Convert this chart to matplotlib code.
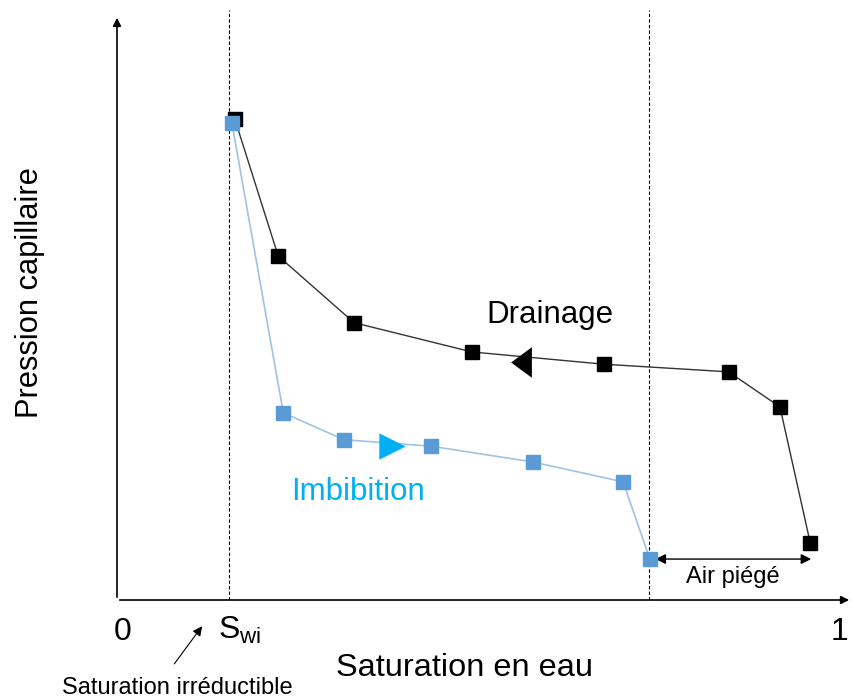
import matplotlib.pyplot as plt

plt.rcParams['font.family'] = ['Liberation Sans', 'DejaVu Sans']

# Saturation (0..1) and capillary pressure (arbitrary units, 0..1)
drain_sat = [0.163, 0.223, 0.328, 0.491, 0.674, 0.846, 0.917, 0.959]
drain_pc = [0.822, 0.588, 0.474, 0.424, 0.403, 0.390, 0.330, 0.097]
imbib_sat = [0.159, 0.230, 0.314, 0.434, 0.575, 0.700, 0.737]
imbib_pc = [0.815, 0.320, 0.274, 0.263, 0.236, 0.202, 0.070]

swi = 0.155
s_trapped = 0.736

c_BLACK = "black"
c_BLUE_MARK = "#5B9BD5"
c_BLUE_LINE = "#9DC3E6"
c_BLUE_TEXT = "#00B0F0"

fig = plt.figure(figsize=(8.54, 6.98), dpi=100)
ax = fig.add_axes([0, 0, 1, 1])
ax.set_xlim(-0.1618, 1.0194)
ax.set_ylim(-0.1675, 1.0256)
ax.axis("off")

# Axes with arrows
ax.annotate("", xy=(1.0166, 0), xytext=(0, 0),
            arrowprops=dict(arrowstyle="-|>", color="black", lw=1.2, mutation_scale=12))
ax.annotate("", xy=(0, 1.0), xytext=(0, 0),
            arrowprops=dict(arrowstyle="-|>", color="black", lw=1.2, mutation_scale=12))

# Dashed verticals
ax.plot([swi, swi], [0, 1.009], color="black", lw=0.8, ls=(0, (3, 2)))
ax.plot([s_trapped, s_trapped], [0, 1.009], color="black", lw=0.8, ls=(0, (3, 2)))

# Curves
ax.plot(drain_sat, drain_pc, color="#333333", lw=1.0, marker="s", ms=10,
        mfc=c_BLACK, mec=c_BLACK, zorder=3)
ax.plot(imbib_sat, imbib_pc, color=c_BLUE_LINE, lw=1.2, marker="s", ms=9.5,
        mfc=c_BLUE_MARK, mec=c_BLUE_MARK, zorder=4)

# Direction arrows
tri_left = [(-0.68, 0), (0.68, 1), (0.68, -1), (-0.68, 0)]
tri_right = [(1, 0), (-1, 1), (-1, -1), (1, 0)]
ax.plot([0.559], [0.407], marker=tri_left, ms=22, color="black", mew=0, zorder=5)
ax.plot([0.381], [0.263], marker=tri_right, ms=19, color=c_BLUE_TEXT, mew=0, zorder=5)

# Trapped air double arrow
ax.annotate("", xy=(0.964, 0.070), xytext=(0.741, 0.070),
            arrowprops=dict(arrowstyle="<|-|>", color="black", lw=1.0, mutation_scale=15))
ax.text(0.852, 0.039, "Air piégé", fontsize=17, ha="center", va="center")

# Labels
ax.text(0.599, 0.487, "Drainage", fontsize=22.5, ha="center", va="center")
ax.text(0.334, 0.184, "Imbibition", fontsize=22.5, ha="center", va="center", color=c_BLUE_TEXT)
ax.text(-0.120, 0.525, "Pression capillaire", fontsize=22.2, ha="center", va="center", rotation=90)
ax.text(0.481, -0.116, "Saturation en eau", fontsize=23.4, ha="center", va="center")

ax.text(0.008, -0.055, "0", fontsize=23, ha="center", va="center")
ax.text(1.0, -0.055, "1", fontsize=23, ha="center", va="center")
ax.text(0.170, -0.052, r"S$_{\mathregular{wi}}$", fontsize=23, ha="center", va="center")

ax.annotate("", xy=(0.120, -0.041), xytext=(0.077, -0.113),
            arrowprops=dict(arrowstyle="-|>", color="black", lw=0.8, mutation_scale=14))
ax.text(0.083, -0.150, "Saturation irréductible", fontsize=17, ha="center", va="center")

plt.savefig("out.png", dpi=100)
plt.close()
